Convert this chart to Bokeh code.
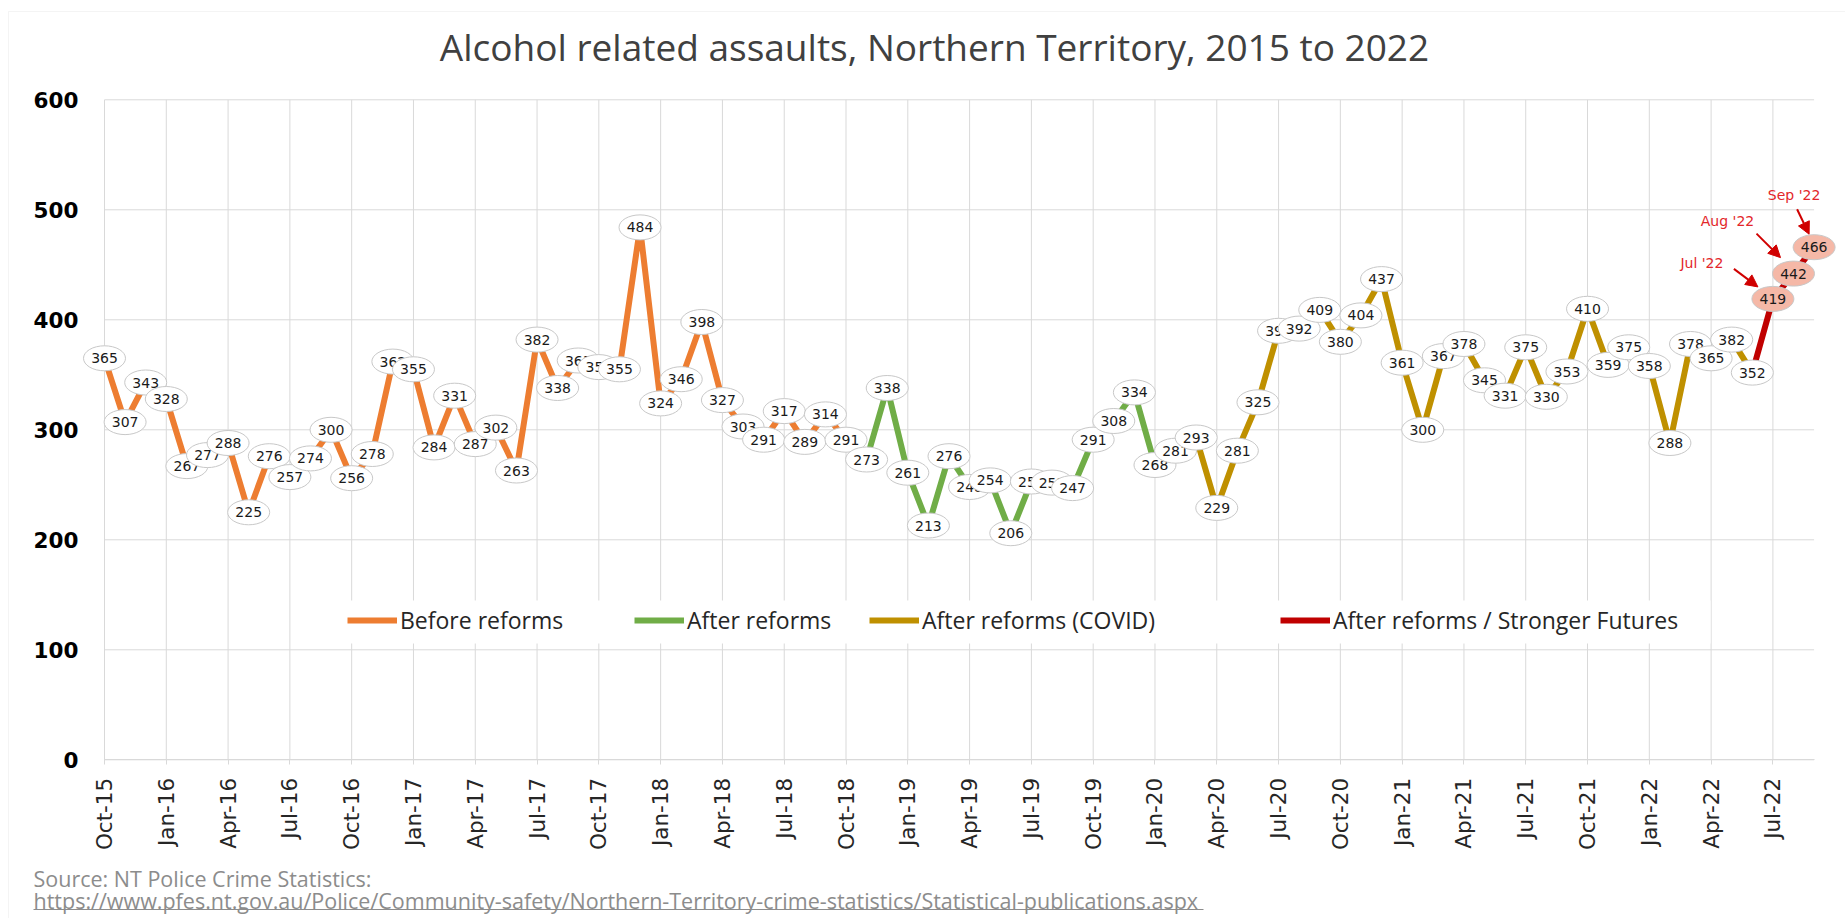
import math
from bokeh.plotting import figure
from bokeh.models import (ColumnDataSource, CDSView, IndexFilter, Range1d, FixedTicker,
                          Legend, LegendItem, Label, Arrow, NormalHead, BoxAnnotation)
from bokeh.core.properties import value
from bokeh.embed import file_html
from bokeh.resources import INLINE

# ---------------- data ----------------
title_text = "Alcohol related assaults, Northern Territory, 2015 to 2022"
source_text = "Source: NT Police Crime Statistics:"
source_url = ("https://www.pfes.nt.gov.au/Police/Community-safety/"
              "Northern-Territory-crime-statistics/Statistical-publications.aspx")

# monthly alcohol related assaults, Oct-15 ... Sep-22
assaults = [
    365, 307, 343,
    328, 267, 277, 288, 225, 276, 257, 274, 300, 256, 278, 362,
    355, 284, 331, 287, 302, 263, 382, 338, 363, 357, 355, 484,
    324, 346, 398, 327, 303, 291, 317, 289, 314, 291, 273, 338,
    261, 213, 276, 248, 254, 206, 253, 252, 247, 291, 308, 334,
    268, 281, 293, 229, 281, 325, 390, 392, 409, 380, 404, 437,
    361, 300, 367, 378, 345, 331, 375, 330, 353, 410, 359, 375,
    358, 288, 378, 365, 382, 352, 419, 442, 466,
]

tick_labels = ["Oct-15", "Jan-16", "Apr-16", "Jul-16", "Oct-16", "Jan-17", "Apr-17",
               "Jul-17", "Oct-17", "Jan-18", "Apr-18", "Jul-18", "Oct-18", "Jan-19",
               "Apr-19", "Jul-19", "Oct-19", "Jan-20", "Apr-20", "Jul-20", "Oct-20",
               "Jan-21", "Apr-21", "Jul-21", "Oct-21", "Jan-22", "Apr-22", "Jul-22"]
tick_step = 3
y_ticks = [0, 100, 200, 300, 400, 500, 600]

periods = ["Before reforms", "After reforms", "After reforms (COVID)",
           "After reforms / Stronger Futures"]
period_start = [0, 36, 53, 80]
period_end = [36, 53, 80, 83]
period_colors = ["#ED7D31", "#70AD47", "#BF9000", "#C00000"]

highlight_names = ["Jul '22", "Aug '22", "Sep '22"]
highlight_index = [81, 82, 83]

# ---------------- layout (page pixels) ----------------
W, H = 1845, 918
X_FIRST_PX, X_LAST_PX = 104.0, 1813.6      # page x of first / last month
Y_ZERO_PX, Y_TOP_PX = 759.3, 99.3          # page y of 0 / 600
n = len(assaults)
xs = list(range(n))
px_x = (X_LAST_PX - X_FIRST_PX) / (n - 1)
px_y = (Y_ZERO_PX - Y_TOP_PX) / (y_ticks[-1] - y_ticks[0])


def to_x(page_x):
    return (page_x - X_FIRST_PX) / px_x


def to_y(page_y):
    return (Y_ZERO_PX - page_y) / px_y


p = figure(width=W, height=H, output_backend="svg", toolbar_location=None,
           x_range=Range1d(to_x(0), to_x(W)), y_range=Range1d(to_y(H), to_y(0)),
           min_border_left=0, min_border_right=0, min_border_top=0,
           min_border_bottom=0)
p.outline_line_color = None
p.background_fill_color = "white"
p.border_fill_color = "white"
p.xgrid.visible = False
p.ygrid.visible = False

ticks = list(range(0, n, tick_step))[:len(tick_labels)]
p.xaxis.fixed_location = 0
p.xaxis.bounds = (0, n - 1)
p.xaxis.ticker = FixedTicker(ticks=ticks)
p.xaxis.major_label_overrides = {t: lab for t, lab in zip(ticks, tick_labels)}
p.xaxis.major_label_orientation = math.pi / 2
p.xaxis.minor_tick_line_color = None
p.xaxis.axis_line_color = "#D9D9D9"
p.xaxis.major_tick_line_color = "#D9D9D9"
p.xaxis.major_tick_out = 5
p.xaxis.major_tick_in = 0
p.xaxis.major_label_standoff = 13
p.xaxis.major_label_text_font = "DejaVu Sans"
p.xaxis.major_label_text_font_size = "21.5px"
p.xaxis.major_label_text_color = "#262626"

p.yaxis.fixed_location = 0
p.yaxis.bounds = (y_ticks[0], y_ticks[-1])
p.yaxis.ticker = FixedTicker(ticks=y_ticks)
p.yaxis.axis_line_color = None
p.yaxis.major_tick_line_color = None
p.yaxis.minor_tick_line_color = None
p.yaxis.major_tick_out = 0
p.yaxis.major_tick_in = 0
p.yaxis.major_label_standoff = 26
p.yaxis.major_label_text_font = "DejaVu Sans"
p.yaxis.major_label_text_font_style = "bold"
p.yaxis.major_label_text_font_size = "21.5px"
p.yaxis.major_label_text_color = "#000000"

# gridlines limited to the plot area
grid_color = "#D9D9D9"
p.segment(x0=[xs[0]] * len(y_ticks), x1=[xs[-1]] * len(y_ticks), y0=y_ticks, y1=y_ticks,
          line_color=grid_color, line_width=1, level="underlay")
p.segment(x0=ticks, x1=ticks, y0=[y_ticks[0]] * len(ticks), y1=[y_ticks[-1]] * len(ticks),
          line_color=grid_color, line_width=1, level="underlay")

# chart border (top and left visible)
p.add_layout(BoxAnnotation(left=to_x(8), right=to_x(W + 20), top=to_y(11),
                           bottom=to_y(H + 20), fill_alpha=0, line_color=grid_color,
                           line_width=1))

# ---------------- lines ----------------
line_renderers = []
for name, a, b, col in zip(periods, period_start, period_end, period_colors):
    src = ColumnDataSource(dict(x=xs[a:b + 1], y=assaults[a:b + 1]))
    r = p.line("x", "y", source=src, line_color=col, line_width=6,
               line_join="round")
    line_renderers.append((name, r))

# ---------------- data labels ----------------
fills = ["#F5B8A7" if i in highlight_index else "white" for i in xs]
label_src = ColumnDataSource(dict(x=xs, y=assaults, txt=[str(v) for v in assaults],
                                  fill=fills))
for i in xs:
    p.ellipse("x", "y", width=42, height=25, width_units="screen",
              height_units="screen", source=label_src,
              view=CDSView(filter=IndexFilter([i])),
              fill_color="fill", line_color="#C8C8C8", line_width=1)
    p.text("x", "y", text="txt", source=label_src,
           view=CDSView(filter=IndexFilter([i])),
           text_align="center", text_baseline="middle",
           text_font=value("DejaVu Sans"), text_font_size="14px",
           text_color="#1A1A1A")

# ---------------- legend ----------------
p.add_layout(BoxAnnotation(left=to_x(330), right=to_x(1710), top=to_y(600),
                           bottom=to_y(643), fill_color="white", fill_alpha=1.0,
                           line_color=None))
legend_glyph_px = [347, 634, 869, 1280]
legend_center_py = 626
for (nm, r), gx in zip(line_renderers, legend_glyph_px):
    lg = Legend(items=[LegendItem(label=nm, renderers=[r])],
                orientation="horizontal", location=(gx, H - legend_center_py - 10),
                margin=0, padding=0, spacing=0, glyph_width=50, glyph_height=20,
                label_standoff=3, label_height=20,
                label_text_font="Open Sans", label_text_font_size="23px",
                label_text_color="#262626",
                background_fill_alpha=0.0, border_line_color=None)
    p.add_layout(lg, "center")

# ---------------- highlight annotations ----------------
# offsets in screen px relative to the data point (x right, y down)
text_off = [(-71, -36), (-66, -53), (-20, -52)]
arrow_start_off = [(-39, -30), (-37, -40), (-17, -38)]
arrow_end_off = [(-15, -12), (-13, -16), (-5, -13)]
red_text = "#E3262A"
red_arrow = "#D00000"
for nm, idx, to, so, eo in zip(highlight_names, highlight_index, text_off,
                               arrow_start_off, arrow_end_off):
    v = assaults[idx]
    p.add_layout(Label(x=idx, y=v, x_offset=to[0], y_offset=-to[1], text=nm,
                       text_align="center", text_baseline="middle",
                       text_font="DejaVu Sans", text_font_size="14px",
                       text_color=red_text))
    p.add_layout(Arrow(x_start=idx + so[0] / px_x, y_start=v - so[1] / px_y,
                       x_end=idx + eo[0] / px_x, y_end=v - eo[1] / px_y,
                       line_color=red_arrow, line_width=2,
                       end=NormalHead(size=12, fill_color=red_arrow,
                                      line_color=red_arrow)))

# ---------------- title & source ----------------
p.add_layout(Label(x=to_x(934), y=to_y(46), text=title_text,
                   text_align="center", text_baseline="middle",
                   text_font="Open Sans", text_font_size="37px",
                   text_color="#404040"))
p.add_layout(Label(x=to_x(33), y=to_y(877.5), text=source_text,
                   text_align="left", text_baseline="middle",
                   text_font="Open Sans", text_font_size="21.5px",
                   text_color="#8C8C8C"))
p.add_layout(Label(x=to_x(33), y=to_y(900), text=source_url,
                   text_align="left", text_baseline="middle",
                   text_font="Open Sans", text_font_size="21.5px",
                   text_color="#8C8C8C"))
URL_W = 1170
p.add_layout(Arrow(x_start=to_x(33), y_start=to_y(909), x_end=to_x(33 + URL_W),
                   y_end=to_y(909), end=None, line_color="#8C8C8C", line_width=1))

open("out.html", "w").write(file_html(p, INLINE))
